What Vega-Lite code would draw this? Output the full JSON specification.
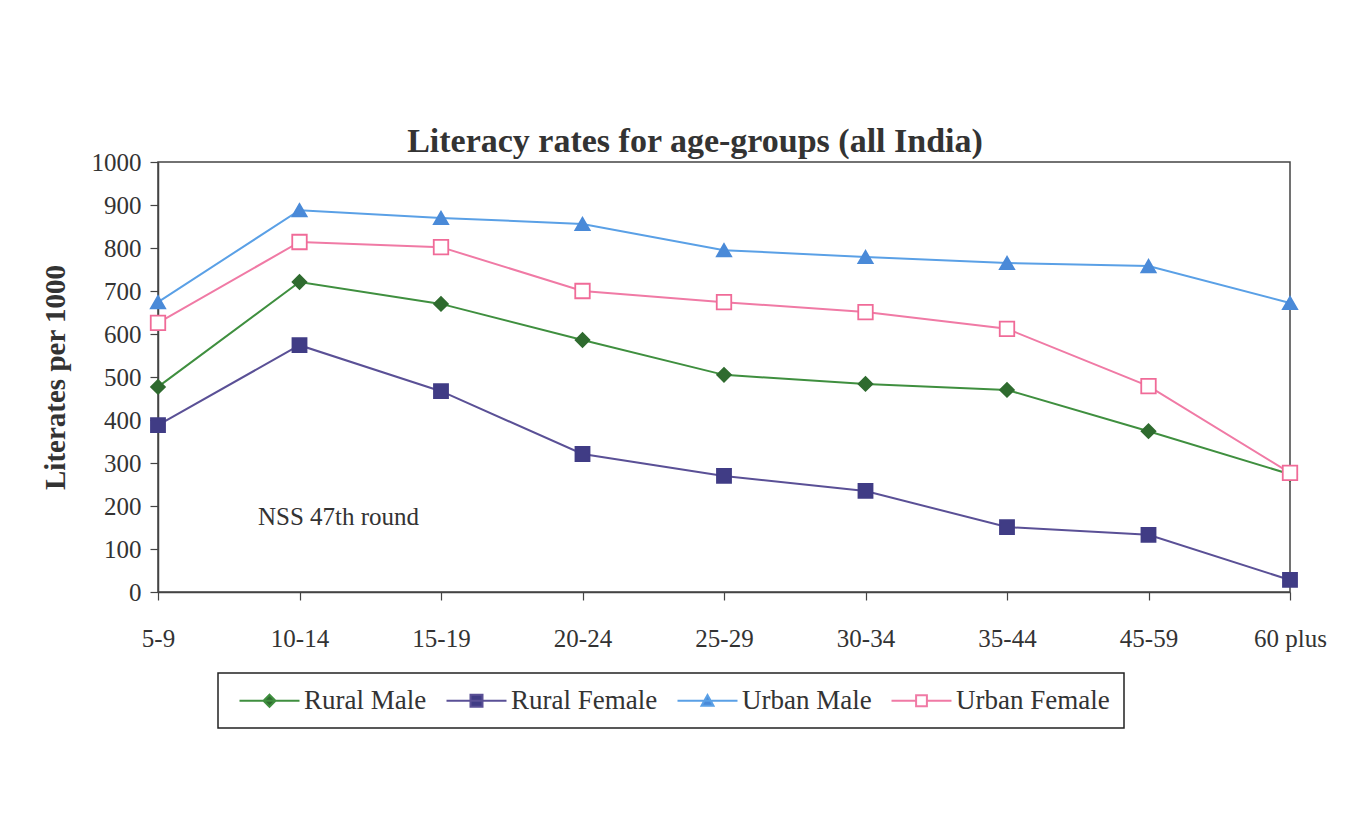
{
  "$schema": "https://vega.github.io/schema/vega-lite/v6.json",
  "autosize": {"type": "none"},
  "width": 1132,
  "height": 430,
  "padding": {"left": 158, "top": 162, "right": 66, "bottom": 228},
  "background": "white",
  "config": {
    "view": {"stroke": "#444", "strokeWidth": 1.5},
    "font": "Liberation Serif",
    "legend": {"strokeColor": "#222", "fillColor": "white"},
    "axis": {
      "labelFont": "Liberation Serif",
      "labelColor": "#333",
      "labelFontSize": 25,
      "domainColor": "#444",
      "domainWidth": 1.5,
      "tickColor": "#444",
      "tickWidth": 1.2,
      "grid": false,
      "titleFont": "Liberation Serif",
      "titleColor": "#333"
    }
  },
  "title": {
    "text": "Literacy rates for age-groups (all India)",
    "font": "Liberation Serif",
    "fontSize": 34,
    "fontWeight": "bold",
    "color": "#333",
    "anchor": "middle",
    "dx": -29,
    "offset": -9
  },
  "datasets": {
    "lit": [
      {"age": "5-9", "series": "Rural Male", "value": 477},
      {"age": "10-14", "series": "Rural Male", "value": 721},
      {"age": "15-19", "series": "Rural Male", "value": 670},
      {"age": "20-24", "series": "Rural Male", "value": 586},
      {"age": "25-29", "series": "Rural Male", "value": 505},
      {"age": "30-34", "series": "Rural Male", "value": 484},
      {"age": "35-44", "series": "Rural Male", "value": 470},
      {"age": "45-59", "series": "Rural Male", "value": 374},
      {"age": "60 plus", "series": "Rural Male", "value": 274},
      {"age": "5-9", "series": "Rural Female", "value": 388},
      {"age": "10-14", "series": "Rural Female", "value": 574},
      {"age": "15-19", "series": "Rural Female", "value": 467},
      {"age": "20-24", "series": "Rural Female", "value": 321},
      {"age": "25-29", "series": "Rural Female", "value": 270},
      {"age": "30-34", "series": "Rural Female", "value": 235},
      {"age": "35-44", "series": "Rural Female", "value": 151},
      {"age": "45-59", "series": "Rural Female", "value": 133},
      {"age": "60 plus", "series": "Rural Female", "value": 28},
      {"age": "5-9", "series": "Urban Male", "value": 674},
      {"age": "10-14", "series": "Urban Male", "value": 888},
      {"age": "15-19", "series": "Urban Male", "value": 870},
      {"age": "20-24", "series": "Urban Male", "value": 856},
      {"age": "25-29", "series": "Urban Male", "value": 795},
      {"age": "30-34", "series": "Urban Male", "value": 779},
      {"age": "35-44", "series": "Urban Male", "value": 765},
      {"age": "45-59", "series": "Urban Male", "value": 758},
      {"age": "60 plus", "series": "Urban Male", "value": 672},
      {"age": "5-9", "series": "Urban Female", "value": 626},
      {"age": "10-14", "series": "Urban Female", "value": 814},
      {"age": "15-19", "series": "Urban Female", "value": 802},
      {"age": "20-24", "series": "Urban Female", "value": 700},
      {"age": "25-29", "series": "Urban Female", "value": 674},
      {"age": "30-34", "series": "Urban Female", "value": 651},
      {"age": "35-44", "series": "Urban Female", "value": 612},
      {"age": "45-59", "series": "Urban Female", "value": 479},
      {"age": "60 plus", "series": "Urban Female", "value": 277}
    ],
    "note": [
      {"age": "10-14", "value": 174, "label": "NSS 47th round"}
    ]
  },
  "encoding": {
    "x": {
      "field": "age",
      "type": "ordinal",
      "sort": ["5-9", "10-14", "15-19", "20-24", "25-29", "30-34", "35-44", "45-59", "60 plus"],
      "scale": {"type": "point", "padding": 0},
      "axis": {"title": null, "labelAngle": 0, "tickSize": 8, "labelPadding": 26}
    },
    "y": {
      "field": "value",
      "type": "quantitative",
      "scale": {"domain": [0, 1000], "nice": false},
      "axis": {
        "title": "Literates per 1000",
        "titleFontSize": 29,
        "titleFontWeight": "bold",
        "titlePadding": 21,
        "format": "d",
        "values": [0, 100, 200, 300, 400, 500, 600, 700, 800, 900, 1000],
        "tickSize": 8,
        "labelPadding": 9
      }
    }
  },
  "resolve": {"scale": {"color": "independent", "fill": "independent", "stroke": "independent"}},
  "layer": [
    {
      "data": {"name": "lit"},
      "mark": {"type": "line", "strokeWidth": 2},
      "encoding": {
        "color": {
          "field": "series",
          "type": "nominal",
          "scale": {
            "domain": ["Rural Male", "Rural Female", "Urban Male", "Urban Female"],
            "range": ["#3f8f3f", "#5a5096", "#5aa0e6", "#f07aa5"]
          },
          "legend": {
            "title": null,
            "orient": "none",
            "direction": "horizontal",
            "legendX": 60,
            "legendY": 511,
            "padding": 14,
            "labelFont": "Liberation Serif",
            "labelFontSize": 27,
            "labelColor": "#333",
            "symbolSize": 144,
            "symbolStrokeWidth": 2,
            "symbolOffset": 24,
            "labelOffset": 21,
            "columnPadding": 12,
            "labelLimit": 300,
            "encode": {
              "legend": {
                "update": {
                  "stroke": {"value": "#222"},
                  "strokeWidth": {"value": 1.5},
                  "fill": {"value": "white"}
                }
              },
              "symbols": {
                "update": {
                  "shape": {"signal": "datum.value === 'Rural Male' ? 'M-5,0H5M0,-1L1,0L0,1L-1,0Z' : datum.value === 'Rural Female' ? 'M-5,0H5M-1,-1H1V1H-1Z' : datum.value === 'Urban Male' ? 'M-5,0H5M-1,0.85L0,-0.95L1,0.85Z' : 'M-5,0H-0.9M0.9,0H5M-0.9,-0.9H0.9V0.9H-0.9Z'"},
                  "fill": {"signal": "datum.value === 'Rural Male' ? '#2f6b2f' : datum.value === 'Rural Female' ? '#403c85' : datum.value === 'Urban Male' ? '#4a8ad8' : 'white'"},
                  "stroke": {"signal": "datum.value === 'Rural Male' ? '#3f8f3f' : datum.value === 'Rural Female' ? '#5a5096' : datum.value === 'Urban Male' ? '#5aa0e6' : '#f07aa5'"},
                  "opacity": {"value": 1},
                  "fillOpacity": {"value": 1},
                  "strokeWidth": {"value": 2}
                }
              }
            }
          }
        }
      }
    },
    {
      "data": {"name": "lit"},
      "mark": {"type": "point", "filled": false, "opacity": 1, "strokeWidth": 1.8},
      "encoding": {
        "shape": {
          "field": "series",
          "type": "nominal",
          "scale": {
            "domain": ["Rural Male", "Rural Female", "Urban Male", "Urban Female"],
            "range": ["diamond", "square", "triangle-up", "square"]
          },
          "legend": null
        },
        "size": {
          "field": "series",
          "type": "nominal",
          "scale": {
            "domain": ["Rural Male", "Rural Female", "Urban Male", "Urban Female"],
            "range": [190, 210, 200, 160]
          },
          "legend": null
        },
        "fill": {
          "field": "series",
          "type": "nominal",
          "scale": {
            "domain": ["Rural Male", "Rural Female", "Urban Male", "Urban Female"],
            "range": ["#2f6b2f", "#403c85", "#4a8ad8", "white"]
          },
          "legend": null
        },
        "stroke": {
          "field": "series",
          "type": "nominal",
          "scale": {
            "domain": ["Rural Male", "Rural Female", "Urban Male", "Urban Female"],
            "range": ["#2f6b2f", "#403c85", "#4a8ad8", "#f06b98"]
          },
          "legend": null
        }
      }
    },
    {
      "data": {"name": "note"},
      "mark": {"type": "text", "font": "Liberation Serif", "fontSize": 25, "color": "#333", "align": "center", "baseline": "middle", "dx": 39},
      "encoding": {
        "text": {"field": "label"}
      }
    }
  ]
}
